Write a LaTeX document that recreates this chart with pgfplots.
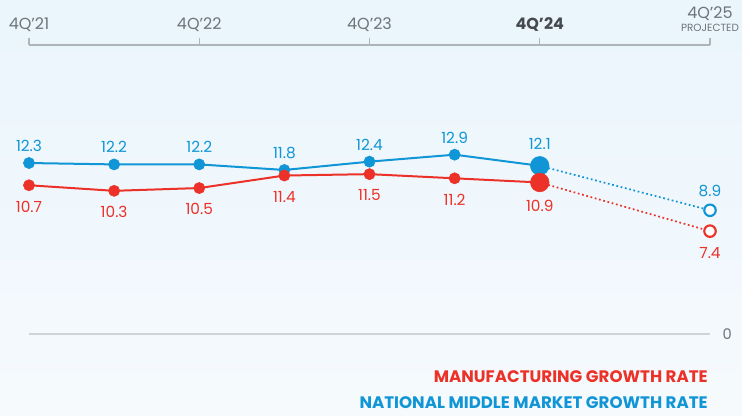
\documentclass[border=0pt]{standalone}
\usepackage{pgfplots}
\pgfplotsset{compat=1.18}
\usepackage{fontspec}
\setmainfont{Poppins}
\definecolor{cblue}{RGB}{16,150,214}
\definecolor{cred}{RGB}{236,49,40}
\definecolor{tickgray}{RGB}{110,116,122}
\definecolor{darkgray2}{RGB}{70,74,80}
\definecolor{axgray}{RGB}{175,180,185}
\definecolor{zerogray}{RGB}{208,212,216}
\definecolor{bgtop}{RGB}{234,245,252}
\definecolor{bgbot}{RGB}{246,250,253}
\begin{document}
\begin{tikzpicture}[x=0.75pt,y=0.75pt]
\shade[top color=bgtop,bottom color=bgbot] (0,0) rectangle (742,415);
\begin{axis}[
  at={(21.75pt,60.75pt)}, anchor=south west, scale only axis,
  width=510.75pt, height=216.75pt,
  xmin=0, xmax=16, ymin=0, ymax=20.79,
  clip=false,
  axis x line*=top, axis y line*=right,
  x axis line style={-, draw=axgray, line width=0.8pt},
  y axis line style={draw=none},
  xtick={0,4,8,12,16},
  xticklabels={4Q’21,4Q’22,4Q’23,{\color{darkgray2}\textbf{4Q’24}},{4Q’25\\[-3pt]{\fontsize{7.8}{9}\selectfont PROJECTED}}},
  tick align=outside,
  major tick length=5.25pt,
  xtick style={draw=axgray, line width=0.8pt},
  xticklabel style={font=\fontsize{12}{13}\selectfont, text=tickgray, anchor=south, inner sep=0pt, align=center, yshift=4.5pt},
  ytick={0},
  ytick style={draw=none},
  yticklabel pos=right,
  yticklabel style={font=\fontsize{11}{12}\selectfont, text=tickgray, anchor=west, inner sep=0pt, xshift=4pt},
  /pgf/number format/assume math mode=true,
  ymajorgrids,
  major grid style={draw=zerogray, line width=1pt},
  every node near coord/.append style={font=\fontsize{11.5}{13}\selectfont, inner sep=0pt},
]
% blue lines
\addplot[cblue, line width=1.5pt, mark=none] coordinates {(0,12.3) (2,12.2) (4,12.2) (6,11.8) (8,12.4) (10,12.9) (12,12.1)};
\addplot[cblue, line width=1.3pt, dotted, mark=none] coordinates {(12,12.1) (16,8.9)};
% red lines
\addplot[cred, line width=1.5pt, mark=none] coordinates {(0,10.7) (2,10.3) (4,10.5) (6,11.4) (8,11.5) (10,11.2) (12,10.9)};
\addplot[cred, line width=1.3pt, dotted, mark=none] coordinates {(12,10.9) (16,7.4)};
% blue marks
\addplot[only marks, mark=*, mark size=4.2pt, cblue, mark options={draw=cblue, fill=cblue},
  point meta=explicit symbolic, nodes near coords,
  every node near coord/.append style={anchor=south, yshift=8.3pt, text=cblue}]
  coordinates {(0,12.3) [12.3] (2,12.2) [12.2] (4,12.2) [12.2] (6,11.8) [11.8] (8,12.4) [12.4] (10,12.9) [12.9]};
\addplot[only marks, mark=*, mark size=7pt, cblue, mark options={draw=cblue, fill=cblue},
  point meta=explicit symbolic, nodes near coords,
  every node near coord/.append style={anchor=south, yshift=12pt, text=cblue}]
  coordinates {(12,12.1) [12.1]};
\addplot[only marks, mark=*, mark size=4.3pt, cblue, mark options={draw=cblue, fill=white, line width=1.6pt},
  point meta=explicit symbolic, nodes near coords,
  every node near coord/.append style={anchor=south, yshift=9.5pt, text=cblue}]
  coordinates {(16,8.9) [8.9]};
% red marks
\addplot[only marks, mark=*, mark size=4.2pt, cred, mark options={draw=cred, fill=cred},
  point meta=explicit symbolic, nodes near coords,
  every node near coord/.append style={anchor=north, yshift=-11.5pt, text=cred}]
  coordinates {(0,10.7) [10.7] (2,10.3) [10.3] (4,10.5) [10.5] (6,11.4) [11.4] (8,11.5) [11.5] (10,11.2) [11.2]};
\addplot[only marks, mark=*, mark size=7pt, cred, mark options={draw=cred, fill=cred},
  point meta=explicit symbolic, nodes near coords,
  every node near coord/.append style={anchor=north, yshift=-13pt, text=cred}]
  coordinates {(12,10.9) [10.9]};
\addplot[only marks, mark=*, mark size=4.3pt, cred, mark options={draw=cred, fill=white, line width=1.6pt},
  point meta=explicit symbolic, nodes near coords,
  every node near coord/.append style={anchor=north, yshift=-11.5pt, text=cred}]
  coordinates {(16,7.4) [7.4]};
\end{axis}
\node[anchor=east, inner sep=0pt, text=cred, font=\bfseries\fontsize{12.5}{14}\selectfont] at (708,38) {MANUFACTURING GROWTH RATE};
\node[anchor=east, inner sep=0pt, text=cblue, font=\bfseries\fontsize{12.5}{14}\selectfont] at (708,12) {NATIONAL MIDDLE MARKET GROWTH RATE};
\end{tikzpicture}
\end{document}
